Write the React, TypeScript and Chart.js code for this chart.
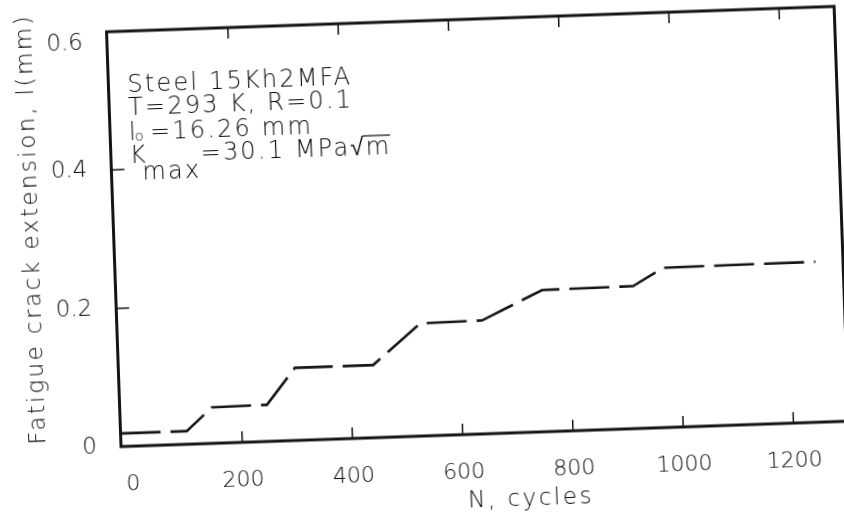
import React, { useEffect, useRef } from 'react';
import { Chart, registerables } from 'chart.js';

Chart.register(...registerables);

// ---- data ----
const N_CYCLES = [-20, 100, 147, 247, 300, 442, 530, 642, 753, 918, 974, 1250];
const CRACK_EXT = [0.019, 0.019, 0.052, 0.053, 0.105, 0.105, 0.163, 0.164, 0.205, 0.206, 0.231, 0.232];
const X_TICKS = [0, 200, 400, 600, 800, 1000, 1200];
const Y_TICKS = [0, 0.2, 0.4, 0.6];
const X_MIN = -20;
const X_MAX = 1300;
const Y_MIN = 0;
const Y_MAX = 0.6;
const X_TITLE = 'N, cycles';
const Y_TITLE = 'Fatigue crack extension, l(mm)';
const NOTE_1 = 'Steel 15Kh2MFA';
const NOTE_2 = 'T=293 K, R=0.1';
const NOTE_3A = 'l';
const NOTE_3B = 'o';
const NOTE_3C = '=16.26 mm';
const NOTE_4A = 'K';
const NOTE_4B = 'max';
const NOTE_4C = '=30.1 MPa\u221A';
const NOTE_4D = 'm';

// ---- layout ----
const PAD = 30;
const W = 844 + 2 * PAD;
const H = 532 + 2 * PAD;
const TILT = -2;
const ORIGIN_X = 477.5 + PAD;
const ORIGIN_Y = 224.75 + PAD;
const AREA_LEFT = 113.5 + PAD;
const AREA_TOP = 19 + PAD;
const AREA_RIGHT = 841.5 + PAD;
const AREA_BOTTOM = 434 + PAD;
const FONT = "'DejaVu Sans', 'Liberation Sans', sans-serif";
const INK = '#151515';
const TEXT = '#0a0a0a';

const framePlugin = {
  id: 'frame',
  afterDraw(chart: any) {
    const { ctx, chartArea: a, scales } = chart;
    const xs = scales.x;
    const ys = scales.y;
    ctx.save();
    // inward ticks
    ctx.strokeStyle = INK;
    ctx.lineWidth = 1.5;
    ctx.beginPath();
    X_TICKS.forEach((v) => {
      if (v <= 0) return;
      const px = xs.getPixelForValue(v);
      ctx.moveTo(px, a.bottom);
      ctx.lineTo(px, a.bottom - 11);
      ctx.moveTo(px, a.top);
      ctx.lineTo(px, a.top + 11);
    });
    Y_TICKS.forEach((v) => {
      if (v <= Y_MIN || v >= Y_MAX) return;
      const py = ys.getPixelForValue(v);
      ctx.moveTo(a.left, py);
      ctx.lineTo(a.left + 13, py);
    });
    ctx.stroke();
    // box
    ctx.lineWidth = 3;
    ctx.strokeRect(a.left, a.top, a.right - a.left, a.bottom - a.top);

    // axis titles
    ctx.fillStyle = TEXT;
    (ctx as any).letterSpacing = '2.5px';
    ctx.font = `200 23px ${FONT}`;
    ctx.textAlign = 'center';
    ctx.textBaseline = 'alphabetic';
    ctx.fillText(X_TITLE, (a.left + a.right) / 2 + 44, a.bottom + 73);
    ctx.save();
    ctx.translate(a.left - 76, (a.top + a.bottom) / 2 - 13);
    ctx.rotate(-Math.PI / 2);
    ctx.fillText(Y_TITLE, 0, 0);
    ctx.restore();

    // annotation block
    (ctx as any).letterSpacing = '2.2px';
    ctx.textAlign = 'left';
    const x0 = a.left + 19;
    const big = `200 24px ${FONT}`;
    ctx.font = big;
    ctx.fillText(NOTE_1, x0, a.top + 61);
    ctx.fillText(NOTE_2, x0, a.top + 84);
    // line 3: l_o =16.26 mm
    const b3 = a.top + 109;
    ctx.fillText(NOTE_3A, x0, b3);
    const wl = ctx.measureText(NOTE_3A).width;
    ctx.font = `200 14px ${FONT}`;
    ctx.fillText(NOTE_3B, x0 + wl - 3, b3 + 1);
    ctx.font = big;
    ctx.fillText(NOTE_3C, x0 + 21, b3);
    // line 4: K_max=30.1 MPa sqrt(m)
    const b4 = a.top + 132;
    ctx.fillText(NOTE_4A, x0, b4);
    const wk = ctx.measureText(NOTE_4A).width;
    ctx.fillText(NOTE_4B, x0 + wk - 6, b4 + 17);
    const wm = ctx.measureText(NOTE_4B).width;
    const xc = x0 + wk - 6 + wm;
    ctx.fillText(NOTE_4C, xc, b4);
    const wc = ctx.measureText(NOTE_4C).width;
    ctx.fillText(NOTE_4D, xc + wc, b4);
    const wd = ctx.measureText(NOTE_4D).width;
    ctx.strokeStyle = TEXT;
    ctx.lineWidth = 1.2;
    ctx.beginPath();
    ctx.moveTo(xc + wc - 3, b4 - 19);
    ctx.lineTo(xc + wc + wd - 1, b4 - 19);
    ctx.stroke();
    ctx.restore();
  },
};

export default function App() {
  const ref = useRef<HTMLCanvasElement>(null);
  useEffect(() => {
    if (!ref.current) return;
    const chart = new Chart(ref.current, {
      type: 'line',
      data: {
        datasets: [
          {
            data: N_CYCLES.map((x, i) => ({ x, y: CRACK_EXT[i] })),
            borderColor: INK,
            borderWidth: 2.6,
            borderDash: [40, 10],
            pointRadius: 0,
            tension: 0,
            fill: false,
          },
        ],
      },
      options: {
        responsive: false,
        animation: false,
        events: [],
        layout: {
          padding: { top: AREA_TOP, right: W - AREA_RIGHT, left: 0, bottom: 0 },
        },
        plugins: {
          legend: { display: false },
          tooltip: { enabled: false },
        },
        scales: {
          x: {
            type: 'linear',
            position: 'bottom',
            min: X_MIN,
            max: X_MAX,
            grid: { display: false },
            border: { display: false },
            afterBuildTicks: (s: any) => {
              s.ticks = X_TICKS.map((value) => ({ value }));
            },
            afterFit: (s: any) => {
              s.height = H - AREA_BOTTOM;
            },
            ticks: {
              autoSkip: false,
              maxRotation: 0,
              padding: 17,
              color: TEXT,
              font: { family: FONT, size: 22, weight: '200' as any },
              callback: (v: any) => String(v),
            },
          },
          y: {
            type: 'linear',
            min: Y_MIN,
            max: Y_MAX,
            grid: { display: false },
            border: { display: false },
            afterBuildTicks: (s: any) => {
              s.ticks = Y_TICKS.map((value) => ({ value }));
            },
            afterFit: (s: any) => {
              s.width = AREA_LEFT;
            },
            ticks: {
              autoSkip: false,
              padding: 16,
              color: TEXT,
              font: { family: FONT, size: 23, weight: '200' as any, lineHeight: 1 },
              callback: (v: any, i: number) => {
                const t = v === 0 ? '0' : Number(v).toFixed(1);
                return i === Y_TICKS.length - 1 ? ['', t] : t;
              },
            },
          },
        },
      },
      plugins: [framePlugin],
    });
    return () => chart.destroy();
  }, []);

  return (
    <div
      style={{
        position: 'fixed',
        left: 0,
        top: 0,
        width: 844,
        height: 532,
        overflow: 'hidden',
        background: '#fff',
      }}
    >
      <div
        style={{
          position: 'absolute',
          left: -PAD,
          top: -PAD,
          width: W,
          height: H,
          transform: `rotate(${TILT}deg)`,
          transformOrigin: `${ORIGIN_X}px ${ORIGIN_Y}px`,
        }}
      >
        <canvas ref={ref} width={W} height={H} style={{ width: W, height: H, display: 'block' }} />
      </div>
    </div>
  );
}
